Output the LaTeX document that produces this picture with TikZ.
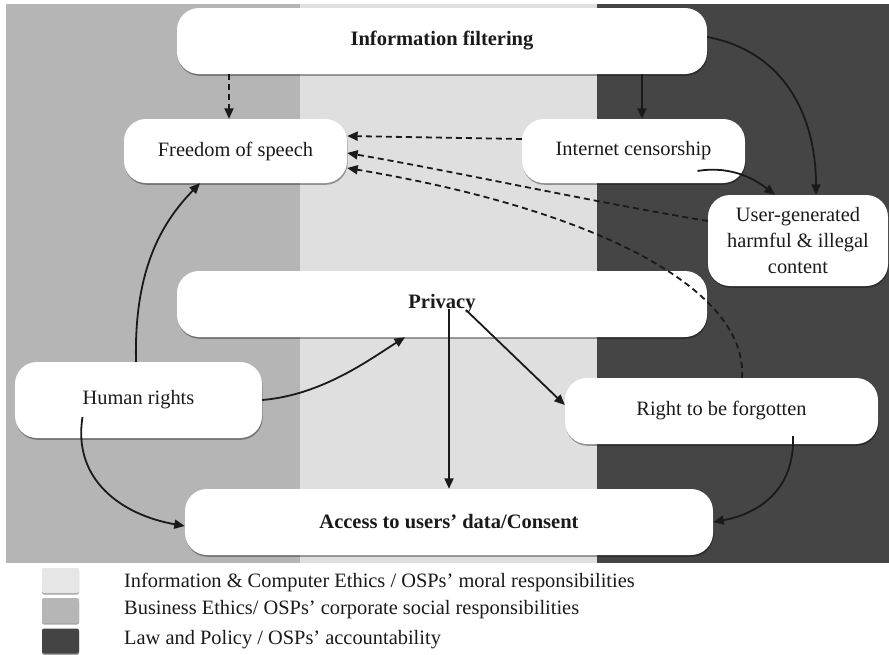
\documentclass[tikz,border=0pt]{standalone}
\usepackage{fontspec}
\setmainfont{Liberation Serif}
\usetikzlibrary{arrows.meta,calc,shadows}
\definecolor{bandMid}{HTML}{B5B5B5}
\definecolor{bandLight}{HTML}{DFDFDF}
\definecolor{bandDark}{HTML}{454545}
\definecolor{legLight}{HTML}{E6E6E6}
\definecolor{legMid}{HTML}{B6B6B6}
\definecolor{legDark}{HTML}{444444}
\definecolor{ink}{HTML}{1A1A1A}
\tikzset{
  box/.style={draw=none, fill=white, rounded corners=22pt, inner sep=0pt,
    align=center, text=ink, font=\fontsize{20.4}{26}\selectfont,
    drop shadow={shadow xshift=0.6pt, shadow yshift=-1.8pt, opacity=0.35, fill=black}},
  boldbox/.style={box, font=\bfseries\fontsize{20.5}{24}\selectfont},
  conn/.style={draw=ink, line width=1.8pt, -{Triangle[length=10.5pt,width=9pt]}},
  dconn/.style={conn, dash pattern=on 6pt off 4pt},
  legsq/.style={minimum width=37pt, minimum height=25pt, inner sep=0pt, rounded corners=2pt,
    drop shadow={shadow xshift=0pt, shadow yshift=-1.5pt, opacity=0.35, fill=black}},
  legtext/.style={anchor=west, inner sep=0pt, text=ink, font=\fontsize{20.4}{24}\selectfont}
}
\begin{document}
\begin{tikzpicture}[x=1pt,y=-1pt]
\useasboundingbox (0,0) rectangle (889,654);
\fill[white] (0,0) rectangle (889,654);
% bands
\fill[bandMid] (6,4) rectangle (300,563);
\fill[bandLight] (300,4) rectangle (597,563);
\fill[bandDark] (597,4) rectangle (889,563);

% nodes
\node[boldbox, minimum width=530pt, minimum height=66pt] (IF) at (442,41) {Information filtering};
\node[box, minimum width=223pt, minimum height=64pt] (FS) at (235.5,151) {Freedom of speech};
\node[box, minimum width=223pt, minimum height=64pt] (IC) at (633.5,151) {Internet censorship};
\node[box, minimum width=180pt, minimum height=91pt] (UG) at (798,240.5) {User-generated\\harmful \& illegal\\content};
\node[boldbox, minimum width=530pt, minimum height=66pt] (PR) at (442,304) {Privacy};
\node[box, minimum width=247pt, minimum height=76pt] (HR) at (138.5,400) {Human rights};
\node[box, minimum width=313pt, minimum height=66pt] (RF) at (721.5,411) {Right to be forgotten};
\node[boldbox, minimum width=528pt, minimum height=66pt] (AC) at (449,522) {Access to users’ data/Consent};

% connectors
\draw[dconn] ([xshift=-6.5pt]FS.north |- IF.south) -- ([xshift=-6.5pt]FS.north);
\draw[conn] ([xshift=8.5pt]IC.north |- IF.south) -- ([xshift=8.5pt]IC.north);
\draw[conn] ([yshift=4pt]IF.east) .. controls +(80,15) and +(0,-75) .. ([xshift=18pt]UG.north);
\coordinate (ICs) at ($(IC)+(64,20)$);
\draw[conn] (ICs) .. controls +(35,-6) and +(-18,-14) .. ([xshift=-23pt]UG.north);
\draw[dconn] ([yshift=12pt]IC.west) -- ([yshift=15pt]FS.east);
\draw[dconn] ([yshift=19.5pt]UG.west) .. controls +(-120,-20) and +(100,17) .. ([yshift=-2pt]FS.east);
\draw[dconn] ([xshift=20.5pt]RF.north) .. controls +(6,-88) and +(251,42) .. ([yshift=-17pt]FS.east);
\draw[conn] ([xshift=-2.5pt]HR.north) .. controls +(-2,-90) and +(-40,41) .. ([xshift=-35.5pt]FS.south);
\draw[conn] (HR.east) .. controls +(60,-5) and +(-35,22) .. ([xshift=-37pt]PR.south);
\coordinate (HRs) at ($(HR)+(-56,17)$);
\draw[conn] (HRs) .. controls +(-10,63) and +(-63,-11) .. ([yshift=-4pt]AC.west);
\coordinate (PRa) at ($(PR)+(7,5)$);
\draw[conn] (PRa) -- (AC.north);
\coordinate (PRb) at ($(PR)+(24,6)$);
\draw[conn] (PRb) -- ([yshift=6pt]RF.west);
\coordinate (RFs) at ($(RF)+(71.5,25)$);
\draw[conn] (RFs) .. controls +(2,54) and +(45,-8) .. (AC.east);

% legend
\node[legsq, fill=legLight] (L1) at (60.5,580.5) {};
\node[legsq, fill=legMid] (L2) at (60.5,610.5) {};
\node[legsq, fill=legDark] (L3) at (60.5,641) {};
\node[legtext] (T1) at (124,582) {Information \& Computer Ethics / OSPs’ moral responsibilities};
\node[legtext] (T2) at (124,610) {Business Ethics/ OSPs’ corporate social responsibilities};
\node[legtext] (T3) at (124,640) {Law and Policy / OSPs’ accountability};
\end{tikzpicture}
\end{document}
